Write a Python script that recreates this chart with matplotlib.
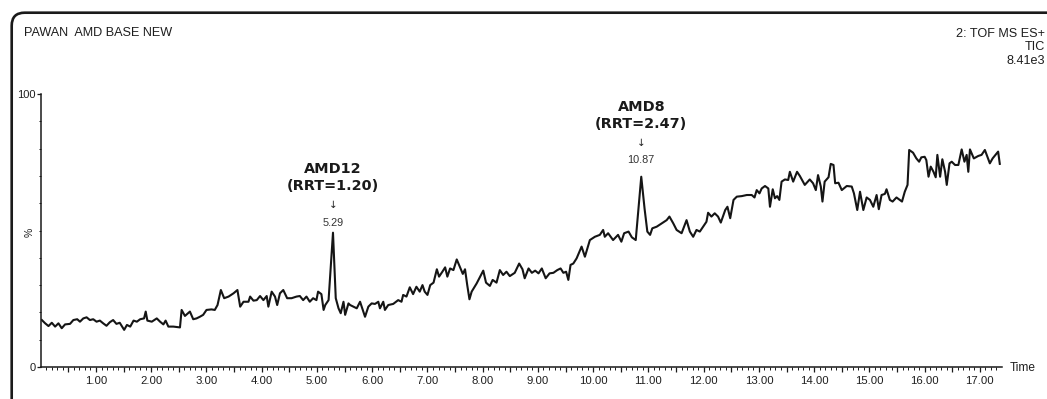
import matplotlib
matplotlib.use("Agg")
import matplotlib.pyplot as plt
import numpy as np
from matplotlib.patches import FancyBboxPatch
from matplotlib.transforms import IdentityTransform
from matplotlib.ticker import FixedLocator, FuncFormatter

# ---- chromatogram trace (retention time in min, relative intensity in %) ----
rt_early = [0.02, 0.08, 0.14, 0.20, 0.26, 0.32, 0.38, 0.44, 0.53, 0.59, 0.66, 0.71,
            0.77, 0.83, 0.89, 0.95, 1.01, 1.07, 1.13, 1.19, 1.25, 1.31, 1.37, 1.43,
            1.51, 1.56, 1.62, 1.68, 1.74, 1.80, 1.87, 1.90, 1.93, 2.01, 2.10, 2.16,
            2.22, 2.26, 2.31, 2.40, 2.52, 2.55, 2.61, 2.70, 2.76, 2.82, 2.88, 2.94,
            3.00, 3.09, 3.15, 3.20, 3.26, 3.32, 3.40, 3.49, 3.56, 3.61, 3.67, 3.76,
            3.79, 3.85, 3.91, 3.97, 4.03, 4.09, 4.12, 4.18, 4.24, 4.28, 4.33, 4.39,
            4.46, 4.54, 4.63, 4.69, 4.75, 4.81, 4.87, 4.93, 4.99, 5.02, 5.08, 5.12,
            5.15, 5.21, 5.29, 5.34, 5.39, 5.43, 5.48, 5.51, 5.57]
pct_early = [17.2, 16.0, 15.0, 16.2, 14.8, 16.0, 14.2, 15.6, 15.8, 17.2, 17.5, 16.6,
             17.8, 18.2, 17.2, 17.5, 16.6, 17.0, 16.0, 15.1, 16.4, 17.2, 15.8, 16.2,
             13.6, 15.4, 14.8, 17.0, 16.6, 17.5, 17.8, 20.3, 17.0, 16.6, 17.8, 16.6,
             15.6, 17.0, 14.8, 14.8, 14.5, 20.9, 18.7, 20.3, 17.5, 17.8, 18.4, 19.1,
             20.9, 21.1, 20.9, 22.7, 28.2, 25.2, 25.8, 27.0, 28.2, 22.1, 23.9, 23.9,
             25.8, 24.3, 24.5, 26.0, 24.5, 26.0, 22.1, 27.6, 25.8, 22.7, 27.0, 28.2,
             25.2, 25.2, 25.8, 26.0, 24.5, 25.8, 23.9, 25.2, 24.5, 27.6, 26.7, 20.9,
             22.7, 24.5, 49.2, 25.2, 21.5, 19.7, 23.9, 19.1, 23.3]

rt_mid = [5.60, 5.66, 5.72, 5.78, 5.83, 5.87, 5.93, 5.99, 6.05, 6.11, 6.14, 6.20,
          6.23, 6.29, 6.38, 6.47, 6.53, 6.56, 6.62, 6.68, 6.74, 6.80, 6.86, 6.91,
          6.95, 7.00, 7.05, 7.11, 7.17, 7.21, 7.27, 7.32, 7.36, 7.41, 7.47, 7.53,
          7.59, 7.64, 7.68, 7.72, 7.76, 7.80, 7.89, 8.01, 8.06, 8.13, 8.18, 8.25,
          8.31, 8.37, 8.43, 8.49, 8.58, 8.66, 8.72, 8.76, 8.83, 8.89, 8.95, 9.01,
          9.07, 9.14, 9.21, 9.28, 9.35, 9.41, 9.46, 9.51, 9.55, 9.59, 9.64, 9.70]
pct_mid = [22.7, 22.1, 21.5, 23.9, 20.9, 18.4, 22.1, 23.3, 23.1, 23.9, 21.5, 23.9,
           20.9, 22.7, 23.1, 24.5, 23.9, 26.4, 25.8, 29.2, 26.7, 29.4, 27.6, 30.0,
           27.6, 26.4, 30.0, 30.9, 35.8, 33.1, 34.9, 36.5, 33.1, 36.1, 35.5, 39.4,
           36.5, 34.1, 35.8, 30.0, 24.8, 27.6, 30.6, 35.3, 30.9, 29.7, 31.9, 30.9,
           35.5, 33.7, 34.9, 33.3, 34.5, 37.9, 35.8, 32.5, 36.1, 34.5, 35.3, 34.3,
           36.1, 32.5, 34.3, 34.5, 35.5, 36.1, 34.5, 34.9, 31.9, 37.4, 37.9, 39.8]

rt_rise = [9.79, 9.85, 9.94, 10.03, 10.12, 10.18, 10.21, 10.27, 10.36, 10.45, 10.51,
           10.56, 10.64, 10.70, 10.77, 10.87, 10.93, 10.98, 11.03, 11.07, 11.15,
           11.24, 11.33, 11.38, 11.45, 11.51, 11.60, 11.69, 11.75, 11.81, 11.87]
pct_rise = [44.1, 40.4, 46.5, 47.7, 48.4, 50.2, 47.7, 49.0, 46.5, 48.4, 45.9,
            49.0, 49.6, 47.5, 46.5, 69.7, 58.0, 49.6, 48.4, 50.8, 51.4,
            52.6, 53.8, 55.1, 52.6, 50.2, 49.0, 53.8, 49.6, 47.7, 50.2]

rt_late = [11.93, 11.99, 12.05, 12.08, 12.14, 12.20, 12.26, 12.31, 12.39, 12.43,
           12.48, 12.54, 12.60, 12.69, 12.78, 12.87, 12.92, 12.96, 13.01, 13.05,
           13.11, 13.17, 13.20, 13.25, 13.29, 13.33, 13.37, 13.41, 13.47, 13.53,
           13.56, 13.62, 13.69, 13.74, 13.83, 13.92, 13.98, 14.03, 14.07, 14.12,
           14.15, 14.19, 14.26, 14.30, 14.35, 14.38, 14.44, 14.50, 14.59, 14.68,
           14.72, 14.78, 14.83, 14.89, 14.95, 15.01, 15.07, 15.13, 15.17, 15.22,
           15.28, 15.31, 15.37, 15.42, 15.49, 15.55, 15.59, 15.64, 15.69, 15.72,
           15.79, 15.85, 15.90, 15.94, 16.00, 16.03, 16.07, 16.11, 16.16, 16.20,
           16.23, 16.28, 16.32, 16.37, 16.40, 16.45, 16.49, 16.55, 16.61, 16.67,
           16.72, 16.76, 16.79, 16.82, 16.89, 16.97, 17.03, 17.09, 17.18, 17.23,
           17.33, 17.36]
pct_late = [49.6, 51.4, 53.2, 56.5, 55.1, 56.3, 55.1, 52.9, 57.5, 58.7,
            54.5, 61.2, 62.4, 62.6, 63.0, 63.0, 62.1, 64.8, 63.6, 65.4,
            66.3, 65.4, 58.7, 65.1, 61.8, 62.6, 61.2, 67.9, 68.7, 68.5,
            71.5, 67.9, 71.5, 70.0, 66.7, 68.7, 67.3, 64.8, 70.3, 66.1,
            60.6, 67.9, 69.5, 74.4, 74.0, 67.3, 67.5, 64.8, 66.3, 66.1,
            63.6, 57.5, 64.2, 57.5, 62.1, 61.2, 58.7, 63.0, 57.8, 63.0,
            63.4, 65.1, 61.2, 60.6, 62.1, 61.2, 60.6, 64.2, 66.7, 79.5,
            78.5, 76.4, 75.2, 76.8, 77.0, 75.8, 69.7, 73.4, 71.5, 69.5,
            77.7, 69.7, 76.1, 71.5, 66.7, 74.6, 75.2, 74.0, 74.0, 79.7,
            75.2, 77.7, 71.5, 79.7, 76.4, 77.3, 77.7, 79.5, 74.6, 76.4,
            78.9, 74.4]

# ---- labelled impurity peaks ----
peak_names = ["AMD12", "AMD8"]
peak_rrt = ["1.20", "2.47"]
peak_rt = [5.29, 10.87]
peak_pct = [49.2, 69.7]

# ---- header text ----
sample_title = "PAWAN  AMD BASE NEW"
trace_info = ["2: TOF MS ES+", "TIC", "8.41e3"]

rt = np.concatenate([rt_early, rt_mid, rt_rise, rt_late])
pct = np.concatenate([pct_early, pct_mid, pct_rise, pct_late])

W, H = 1047, 399
SANS = "Liberation Sans"
plt.rcParams["font.family"] = [SANS, "DejaVu Sans"]

fig = plt.figure(figsize=(W / 100, H / 100), dpi=100)
x0_px, x1_px, y0_px, y1_px = 40.75, 1002, 367, 94
ax = fig.add_axes([x0_px / W, (H - y0_px) / H, (x1_px - x0_px) / W, (y0_px - y1_px) / H])
ax.set_facecolor("none")

ax.plot(rt, pct, color="#151515", lw=1.5, solid_joinstyle="round")

ax.set_xlim(0, 17.40)
ax.set_ylim(0, 100)
for side in ("top", "right"):
    ax.spines[side].set_visible(False)
for side in ("left", "bottom"):
    ax.spines[side].set_color("#1a1a1a")
    ax.spines[side].set_linewidth(1.1)

# x axis: ticks every 0.5 min, labels on whole minutes, fine ticks every 0.1
major_x = np.arange(0.5, 17.4, 0.5)
minor_x = [v for v in np.arange(0.1, 17.4, 0.1) if abs(v * 2 - round(v * 2)) > 1e-6]
ax.xaxis.set_major_locator(FixedLocator(major_x))
ax.xaxis.set_minor_locator(FixedLocator(minor_x))
ax.xaxis.set_major_formatter(FuncFormatter(
    lambda v, _: f"{v:.2f}" if abs(v - round(v)) < 1e-6 else ""))
ax.tick_params(axis="x", which="major", length=3.5, width=0.9, pad=3,
               labelsize=8.2, labelcolor="#1e1e1e", color="#1a1a1a")
ax.tick_params(axis="x", which="minor", length=1.8, width=0.7, color="#1a1a1a")

# y axis: only 0 and 100 labelled, small ticks every 10 %
ax.yaxis.set_major_locator(FixedLocator([0, 100]))
ax.yaxis.set_minor_locator(FixedLocator(np.arange(10, 100, 10)))
ax.yaxis.set_major_formatter(FuncFormatter(lambda v, _: f"{v:.0f}"))
ax.tick_params(axis="y", which="major", length=3, width=0.9, pad=0.5,
               labelsize=8, labelcolor="#1e1e1e", color="#1a1a1a")
ax.tick_params(axis="y", which="minor", length=1.8, width=0.7, color="#1a1a1a")

fig.text(30 / W, 1 - 232 / H, "%", rotation=90, ha="center", va="center",
         fontsize=7.5, color="#1e1e1e")
fig.text(1010 / W, 1 - 368 / H, "Time", ha="left", va="center",
         fontsize=8.6, color="#1e1e1e")

# peak labels: name, RRT, arrow and retention time stacked above the apex
stack_px = [63.4, 46.7, 27.7, 10.0]
extra_lift = [0.0, 6.5]
for name, rrt, t_pk, p_pk, lift in zip(peak_names, peak_rrt, peak_rt, peak_pct, extra_lift):
    lines = [(name, dict(fontsize=10.4, fontweight="bold", family="DejaVu Sans", color="#1a1a1a")),
             (f"(RRT={rrt})", dict(fontsize=10.4, fontweight="bold", family="DejaVu Sans", color="#1a1a1a")),
             ("\u2193", dict(fontsize=7.5, family="DejaVu Sans", color="#222222")),
             (f"{t_pk:.2f}", dict(fontsize=7.8, color="#333333"))]
    for (txt, style), dy in zip(lines, stack_px):
        ax.annotate(txt, xy=(t_pk, p_pk), xytext=(0, dy + lift),
                    textcoords="offset pixels", ha="center", va="center",
                    annotation_clip=False, **style)

# header
fig.text(24 / W, 1 - 33 / H, sample_title, ha="left", va="center",
         fontsize=9.1, color="#1e1e1e")
for i, line in enumerate(trace_info):
    fig.text(1045 / W, 1 - (34 + 13.5 * i) / H, line, ha="right", va="center",
             fontsize=9.1, color="#1e1e1e")

# rounded panel border
frame = FancyBboxPatch((11.7, -40), 1200, (H - 12.7) + 40,
                       boxstyle="round,pad=0,rounding_size=13",
                       transform=IdentityTransform(), fill=False,
                       lw=1.9, ec="#1a1a1a", clip_on=False)
fig.add_artist(frame)

fig.savefig("out.png", dpi=100)
